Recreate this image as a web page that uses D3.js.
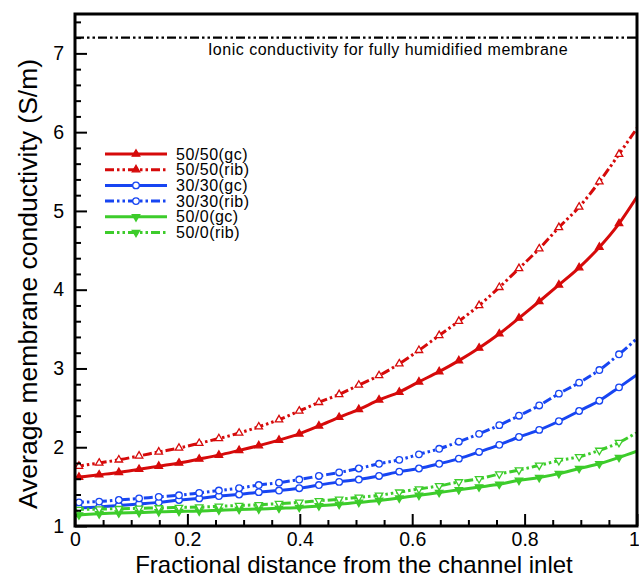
<!DOCTYPE html>
<html>
<head>
<meta charset="utf-8">
<script src="https://cdn.jsdelivr.net/npm/d3@7"></script>
<style>
  html, body { margin: 0; padding: 0; background: #fff; }
  svg { display: block; font-family: 'Liberation Sans', Arial, sans-serif; }
</style>
</head>
<body>
<svg id="chart" width="639" height="578"></svg>
<script>
// fractional distance along the channel (sample positions)
const xs = [0, 0.007, 0.043, 0.078, 0.114, 0.149, 0.185, 0.221, 0.256, 0.292,
  0.327, 0.363, 0.399, 0.434, 0.470, 0.505, 0.541, 0.577, 0.612, 0.648,
  0.683, 0.719, 0.755, 0.790, 0.826, 0.861, 0.897, 0.933, 0.968, 1]

const sig5050gc = [1.615, 1.62, 1.65, 1.68, 1.72, 1.76, 1.80, 1.85, 1.90, 1.96,
  2.02, 2.09, 2.17, 2.27, 2.38, 2.48, 2.60, 2.70, 2.83, 2.96,
  3.10, 3.26, 3.44, 3.64, 3.85, 4.06, 4.28, 4.54, 4.84, 5.18]
const sig5050rib = [1.75, 1.76, 1.80, 1.84, 1.89, 1.94, 1.99, 2.05, 2.11, 2.18,
  2.26, 2.35, 2.46, 2.57, 2.67, 2.79, 2.91, 3.06, 3.23, 3.42,
  3.60, 3.80, 4.03, 4.27, 4.52, 4.79, 5.05, 5.37, 5.72, 6.05]
const sig3030gc = [1.225, 1.23, 1.24, 1.26, 1.28, 1.30, 1.33, 1.35, 1.38, 1.40,
  1.43, 1.45, 1.48, 1.52, 1.56, 1.59, 1.635, 1.69, 1.73, 1.79,
  1.855, 1.94, 2.03, 2.13, 2.22, 2.33, 2.46, 2.59, 2.76, 2.92]
const sig3030rib = [1.29, 1.30, 1.31, 1.33, 1.35, 1.37, 1.39, 1.42, 1.45, 1.48,
  1.52, 1.55, 1.59, 1.635, 1.68, 1.73, 1.79, 1.84, 1.91, 1.98,
  2.07, 2.17, 2.28, 2.40, 2.53, 2.68, 2.82, 2.98, 3.18, 3.38]
const sig500gc = [1.13, 1.14, 1.155, 1.165, 1.17, 1.18, 1.185, 1.19, 1.20, 1.21,
  1.215, 1.225, 1.235, 1.255, 1.275, 1.30, 1.325, 1.355, 1.39, 1.425,
  1.46, 1.495, 1.53, 1.58, 1.615, 1.665, 1.73, 1.79, 1.87, 1.95]
const sig500rib = [1.20, 1.21, 1.215, 1.22, 1.225, 1.23, 1.235, 1.24, 1.25, 1.26,
  1.27, 1.285, 1.30, 1.32, 1.34, 1.365, 1.39, 1.43, 1.47, 1.51,
  1.56, 1.60, 1.66, 1.71, 1.77, 1.83, 1.88, 1.96, 2.06, 2.19]

const seriesNames = ['50/50(gc)', '50/50(rib)', '30/30(gc)', '30/30(rib)', '50/0(gc)', '50/0(rib)']
const seriesValues = [sig5050gc, sig5050rib, sig3030gc, sig3030rib, sig500gc, sig500rib]

const ionicLimit = 7.2
const ionicLabel = 'Ionic conductivity for fully humidified membrane'

const xTicks = [0, 0.2, 0.4, 0.6, 0.8, 1]
const xMinor = [0.05, 0.1, 0.15, 0.25, 0.3, 0.35, 0.45, 0.5, 0.55, 0.65, 0.7, 0.75, 0.85, 0.9, 0.95]
const yTicks = [1, 2, 3, 4, 5, 6, 7]
const yMinor = [1.2, 1.4, 1.6, 1.8, 2.2, 2.4, 2.6, 2.8, 3.2, 3.4, 3.6, 3.8, 4.2, 4.4, 4.6, 4.8,
  5.2, 5.4, 5.6, 5.8, 6.2, 6.4, 6.6, 6.8, 7.2, 7.4]

const DASH = '9,3,2.5,3,2.5,3'
const styles = [
  { color: '#d60a0a', dash: null, symbol: 'up', open: false },
  { color: '#d60a0a', dash: DASH, symbol: 'up', open: true },
  { color: '#1745f2', dash: null, symbol: 'circle', open: true },
  { color: '#1745f2', dash: DASH, symbol: 'circle', open: true },
  { color: '#3dcc2b', dash: null, symbol: 'down', open: false },
  { color: '#3dcc2b', dash: DASH, symbol: 'down', open: true }
]

const plot = { left: 75, right: 637, top: 14, bottom: 526 }

const svg = d3.select('#chart')

const x = d3.scaleLinear().domain([0, 1]).range([plot.left, plot.right])
const y = d3.scaleLinear().domain([1, 7.5]).range([plot.bottom, plot.top])

function markerPath(kind) {
  if (kind === 'circle') return d3.symbol(d3.symbolCircle, 34)()
  return d3.symbol(d3.symbolTriangle, 24)()
}

function drawMarker(g, st, cx, cy, legend) {
  const rot = st.symbol === 'down' ? 180 : 0
  const hollow = st.symbol === 'circle' || (st.open && !legend)
  g.append('path')
    .attr('d', markerPath(st.symbol))
    .attr('transform', 'translate(' + cx + ',' + cy + ') rotate(' + rot + ')')
    .attr('fill', hollow ? '#fff' : st.color)
    .attr('stroke', st.color)
    .attr('stroke-width', 1.3)
}

// curves
const line = d3.line()
  .x(d => x(d[0]))
  .y(d => y(d[1]))
  .curve(d3.curveMonotoneX)

svg.append('clipPath').attr('id', 'clip')
  .append('rect')
  .attr('x', plot.left).attr('y', plot.top)
  .attr('width', plot.right - plot.left).attr('height', plot.bottom - plot.top)
const curves = svg.append('g').attr('clip-path', 'url(#clip)')

seriesValues.forEach((vals, i) => {
  const st = styles[i]
  const pts = xs.map((xv, j) => [xv, vals[j]])
  curves.append('path')
    .datum(pts)
    .attr('d', line)
    .attr('fill', 'none')
    .attr('stroke', st.color)
    .attr('stroke-width', 3)
    .attr('stroke-dasharray', st.dash)
  const mk = curves.append('g')
  pts.slice(1, -1).forEach(p => drawMarker(mk, st, x(p[0]), y(p[1]), false))
})

// fully humidified reference line
svg.append('line')
  .attr('x1', plot.left).attr('x2', plot.right)
  .attr('y1', y(ionicLimit)).attr('y2', y(ionicLimit))
  .attr('stroke', '#000')
  .attr('stroke-width', 2.2)
  .attr('stroke-dasharray', DASH)

svg.append('text')
  .attr('x', 388)
  .attr('y', y(ionicLimit) + 17)
  .attr('text-anchor', 'middle')
  .attr('font-size', 16)
  .attr('letter-spacing', 0.5)
  .text(ionicLabel)

// axes
const axisG = svg.append('g').attr('class', 'axes')

axisG.append('g')
  .attr('transform', 'translate(' + plot.left + ',0)')
  .call(d3.axisLeft(y).tickValues(yTicks).tickSize(-12).tickPadding(11).tickFormat(d3.format('~g')))
axisG.append('g')
  .attr('transform', 'translate(' + plot.left + ',0)')
  .call(d3.axisLeft(y).tickValues(yMinor).tickSize(-6).tickFormat(''))

const xAxisG = axisG.append('g')
  .attr('transform', 'translate(0,' + plot.bottom + ')')
  .call(d3.axisBottom(x).tickValues(xTicks).tickSize(-12).tickPadding(6).tickFormat(d3.format('~g')))
axisG.append('g')
  .attr('transform', 'translate(0,' + plot.bottom + ')')
  .call(d3.axisBottom(x).tickValues(xMinor).tickSize(-6).tickFormat(''))

axisG.selectAll('.domain').remove()
axisG.selectAll('.tick line').attr('stroke', '#000').attr('stroke-width', 2)
axisG.selectAll('.tick text')
  .attr('font-family', "'Liberation Sans', Arial, sans-serif")
  .attr('font-size', 19.5)
  .attr('fill', '#000')
// keep the last x label inside the window
xAxisG.selectAll('.tick text').filter(d => d === 1).attr('dx', -3)

svg.append('rect')
  .attr('x', plot.left).attr('y', plot.top)
  .attr('width', plot.right - plot.left).attr('height', plot.bottom - plot.top)
  .attr('fill', 'none')
  .attr('stroke', '#000')
  .attr('stroke-width', 3)

// axis titles
svg.append('text')
  .attr('x', (plot.left + plot.right) / 2 - 2)
  .attr('y', 572.5)
  .attr('text-anchor', 'middle')
  .attr('font-size', 24)
  .text('Fractional distance from the channel inlet')

svg.append('text')
  .attr('transform', 'translate(37,284) rotate(-90)')
  .attr('text-anchor', 'middle')
  .attr('font-size', 26.5)
  .text('Average membrane conductivity (S/m)')

// legend
const legend = svg.append('g').attr('transform', 'translate(105,154)')
seriesNames.forEach((name, i) => {
  const st = styles[i]
  const row = legend.append('g').attr('transform', 'translate(0,' + i * 15.7 + ')')
  row.append('line')
    .attr('x1', 0).attr('x2', 62)
    .attr('stroke', st.color)
    .attr('stroke-width', 3)
    .attr('stroke-dasharray', st.dash)
  drawMarker(row, st, 31, 0, true)
  row.append('text')
    .attr('x', 71)
    .attr('y', 5.5)
    .attr('font-size', 16)
    .attr('letter-spacing', 0.5)
    .text(name)
})
</script>
</body>
</html>
